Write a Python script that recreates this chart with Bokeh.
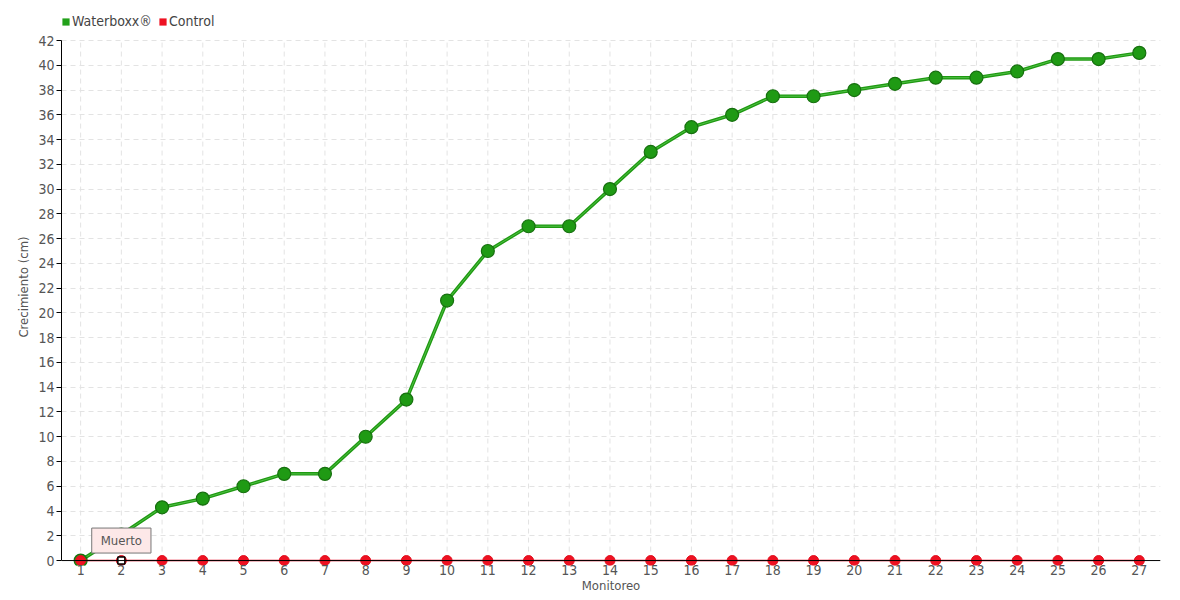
from bokeh.plotting import figure
from bokeh.models import Range1d, FixedTicker, Span, Legend, LegendItem, Label
from bokeh.embed import file_html
from bokeh.resources import INLINE

monitoreo = list(range(1, 28))
waterboxx = [0, 2.1, 4.3, 5, 6, 7, 7, 10, 13, 21, 25, 27, 27, 30, 33, 35, 36, 37.5, 37.5,
             38, 38.5, 39, 39, 39.5, 40.5, 40.5, 41]
control = [0] * 27
y_ticks = list(range(0, 43, 2))
y_max = 42
tooltip_x = 2
tooltip_y = 0
tooltip_text = "Muerto"

FONT = "'Liberation Sans Narrow', 'DejaVu Sans Condensed', Roboto"
TXT = "#555555"

# frame extends above the 42 line so that the legend (clipped to the frame) fits inside it
p = figure(width=1178, height=595, output_backend="svg", toolbar_location=None,
           x_range=Range1d(0.53, 27.52), y_range=Range1d(-0.4, 44.585),
           min_border_left=61, min_border_right=18, min_border_top=8, min_border_bottom=30)
p.outline_line_color = None
p.background_fill_color = "white"

# grids
p.xgrid.visible = False
p.segment(x0=monitoreo, y0=[0] * len(monitoreo), x1=monitoreo, y1=[y_max] * len(monitoreo),
          line_color="#e3e3e3", line_dash="5 4", line_width=1, level="underlay")
p.ygrid.ticker = FixedTicker(ticks=y_ticks)
p.ygrid.grid_line_color = "#e3e3e3"
p.ygrid.grid_line_dash = "5 4"
p.ygrid.grid_line_width = 1

# axes
p.yaxis.ticker = FixedTicker(ticks=y_ticks)
p.yaxis.bounds = (0, y_max)
p.yaxis.axis_line_color = "black"
p.yaxis.major_tick_out = 5
p.yaxis.major_tick_in = 0
p.yaxis.minor_tick_line_color = None
p.yaxis.major_tick_line_color = "black"
p.yaxis.axis_label = "Crecimiento (cm)"
p.yaxis.major_label_standoff = 2
p.yaxis.axis_label_standoff = 4

p.xaxis.ticker = FixedTicker(ticks=monitoreo)
p.xaxis.axis_line_color = None
p.xaxis.major_tick_line_color = None
p.xaxis.minor_tick_line_color = None
p.xaxis.major_tick_out = 0
p.xaxis.major_tick_in = 0
p.xaxis.major_label_standoff = -1
p.xaxis.axis_label = "Monitoreo"
p.xaxis.axis_label_standoff = 0

for ax in (p.xaxis, p.yaxis):
    ax.major_label_text_font = FONT
    ax.major_label_text_font_size = "14px"
    ax.major_label_text_color = TXT
    ax.axis_label_text_font = FONT
    ax.axis_label_text_font_size = "13px"
    ax.axis_label_text_font_style = "normal"
    ax.axis_label_text_color = TXT

p.add_layout(Span(location=0, dimension="width", line_color="black", line_width=1))

# series
p.line(monitoreo, waterboxx, line_color="#1f9a12", line_width=3.5)
p.line(monitoreo, waterboxx, line_color="#4fbf44", line_width=1)
p.scatter(monitoreo, waterboxx, size=13, fill_color="#1f9a14", line_color="#17700f", line_width=1.2)

p.line(monitoreo, control, line_color="#e8001c", line_width=1.5)
p.scatter(monitoreo, control, size=10, fill_color="#ee1122", line_color="#e0101e", line_width=1)

# hover marker + tooltip
p.scatter([tooltip_x], [tooltip_y], marker="square", size=7, fill_color="white",
          line_color="black", line_width=1.5)
lab = Label(x=tooltip_x, y=tooltip_y, y_offset=20, text=tooltip_text, text_align="center",
            text_baseline="middle", text_font=FONT, text_font_size="13px", text_color="#555555",
            background_fill_color="#fde8e8", border_line_color="#777777", border_line_width=1,
            padding=dict(left=9, right=9, top=5, bottom=5))
p.add_layout(lab)

# legend proxies (one point each, placed outside the visible range)
r1 = p.rect(x=[monitoreo[0]], y=[-100], width=0.1, height=0.1, fill_color="#22a11a", line_color=None)
r2 = p.rect(x=[monitoreo[0]], y=[-100], width=0.1, height=0.1, fill_color="#ee1122", line_color=None)
legend = Legend(items=[LegendItem(label="Waterboxx®", renderers=[r1]),
                       LegendItem(label="Control", renderers=[r2])],
                orientation="horizontal", location=(0, 535),
                glyph_width=9, glyph_height=9, label_standoff=2, spacing=6,
                padding=0, margin=0, border_line_color=None, background_fill_alpha=0,
                label_text_font=FONT, label_text_font_size="14px", label_text_color="#444444",
                label_height=18)
p.add_layout(legend)

open("out.html", "w").write(file_html(p, INLINE))
